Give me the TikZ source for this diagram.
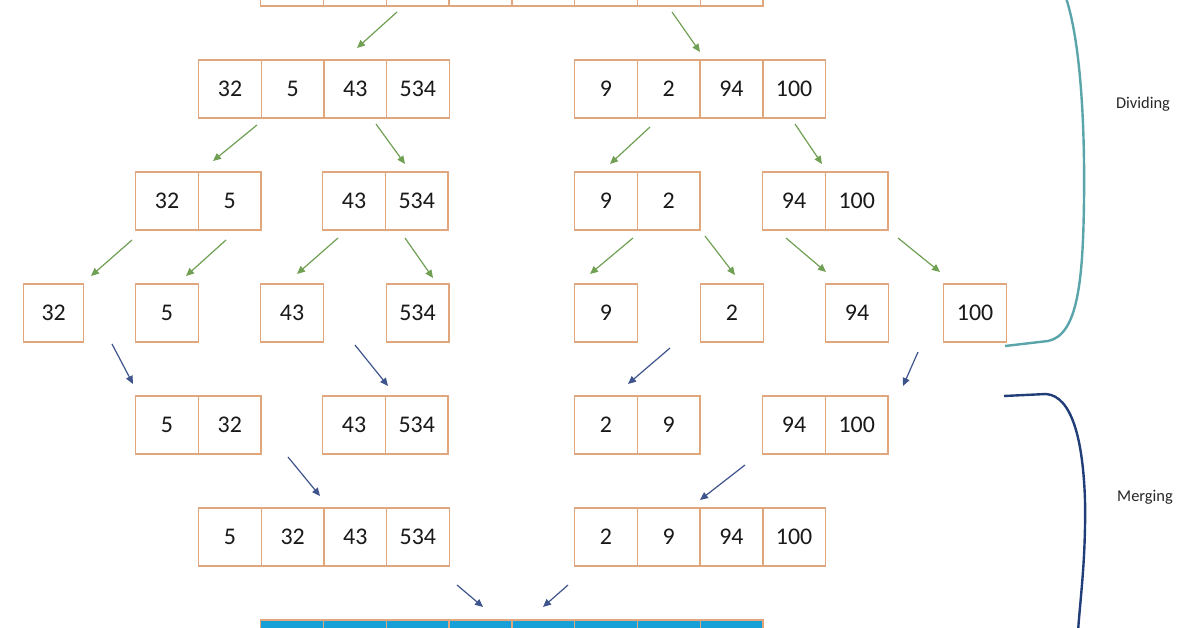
\documentclass[tikz,border=0pt]{standalone}
\usepackage{fontspec}
\setmainfont{Carlito}
\usetikzlibrary{arrows.meta}
\definecolor{cellline}{RGB}{226,166,124}
\definecolor{garr}{RGB}{112,160,84}
\definecolor{barr}{RGB}{62,84,140}
\definecolor{fillblue}{RGB}{22,160,215}
\definecolor{divc}{RGB}{90,165,170}
\definecolor{merc}{RGB}{34,62,120}
\begin{document}
\begin{tikzpicture}[x=1bp,y=-1bp,
  cell/.style={draw=cellline, line width=1.4bp, minimum width=62.7bp, minimum height=58bp, inner sep=0pt, anchor=west, text=black!90, font=\fontsize{24}{26}\selectfont},
  bluecell/.style={cell, fill=fillblue},
  garrow/.style={draw=garr, line width=1.2bp, -{Triangle[length=8bp,width=7bp]}},
  barrow/.style={draw=barr, line width=1.2bp, -{Triangle[length=8bp,width=7bp]}},
  lbl/.style={font=\fontsize{16.5}{18}\selectfont, text=black!85}]
\clip (0,0) rectangle (1196,628);
\useasboundingbox (0,0) rectangle (1196,628);
\fill[white] (0,0) rectangle (1196,628);
% row 1 (cut off at top)
\foreach \k in {0,...,7}{\node[cell] (r1c\k) at (260+62.8*\k,-23) {};}
% row 2
\foreach \t [count=\k from 0] in {32,5,43,534}{\node[cell] (r2l\k) at (198+62.6*\k,89) {\t};}
\foreach \t [count=\k from 0] in {9,2,94,100}{\node[cell] (r2r\k) at (574+62.7*\k,89) {\t};}
% row 3
\node[cell] (r3a0) at (135,201) {32}; \node[cell] (r3a1) at (197.7,201) {5};
\node[cell] (r3b0) at (322,201) {43}; \node[cell] (r3b1) at (384.7,201) {534};
\node[cell] (r3c0) at (574,201) {9};  \node[cell] (r3c1) at (636.7,201) {2};
\node[cell] (r3d0) at (762,201) {94}; \node[cell] (r3d1) at (824.7,201) {100};
% row 4
\node[cell, minimum width=60bp] (r4a) at (23,313) {32};
\node[cell] (r4b) at (135,313) {5};
\node[cell] (r4c) at (260,313) {43};
\node[cell] (r4d) at (385.5,313) {534};
\node[cell] (r4e) at (574,313) {9};
\node[cell] (r4f) at (700,313) {2};
\node[cell] (r4g) at (825,313) {94};
\node[cell] (r4h) at (943,313) {100};
% row 5
\node[cell] (r5a0) at (135,425) {5};  \node[cell] (r5a1) at (197.7,425) {32};
\node[cell] (r5b0) at (322,425) {43}; \node[cell] (r5b1) at (384.7,425) {534};
\node[cell] (r5c0) at (574,425) {2};  \node[cell] (r5c1) at (636.7,425) {9};
\node[cell] (r5d0) at (762,425) {94}; \node[cell] (r5d1) at (824.7,425) {100};
% row 6
\foreach \t [count=\k from 0] in {5,32,43,534}{\node[cell] (r6l\k) at (198+62.6*\k,537) {\t};}
\foreach \t [count=\k from 0] in {2,9,94,100}{\node[cell] (r6r\k) at (574+62.7*\k,537) {\t};}
% row 7 (cut off at bottom)
\foreach \k in {0,...,7}{\node[bluecell] (r7c\k) at (260+62.8*\k,649) {};}
% dividing arrows
\foreach \n/\sx/\sy/\ex/\ey in {1/397/12/357/48, 2/672/12/700/52,
  3/257/125/213/161, 4/376/124/405/164, 5/650/127/610/164, 6/795/124/822/164,
  7/132/240/91/276, 8/226/240/186/276, 9/338/238/297/274, 10/405/238/433/278,
  11/633/238/590/274, 12/705/236/735/275, 13/786/238/826/272, 14/898/238/940/272}{
  \coordinate (g\n s) at (\sx,\sy); \coordinate (g\n e) at (\ex,\ey);
  \draw[garrow] (g\n s) -- (g\n e);}
% merging arrows
\foreach \n/\sx/\sy/\ex/\ey in {1/112/344/133/384, 2/355/345/388/386, 3/670/348/628/384, 4/918/352/903/386,
  5/288/457/320/496, 6/745/465/700/500, 7/457/585/483/607, 8/568/585/543/607}{
  \coordinate (b\n s) at (\sx,\sy); \coordinate (b\n e) at (\ex,\ey);
  \draw[barrow] (b\n s) -- (b\n e);}
% brackets
\coordinate (dtop) at (1066,-2);
\coordinate (dmid) at (1084,200);
\coordinate (dbot) at (1005,346);
\draw[divc, line width=2.4bp] (dtop) .. controls (1080,40) and (1085,120) .. (dmid)
  .. controls (1083,280) and (1078,335) .. (1048,341) -- (dbot);
\coordinate (mtop) at (1004,396);
\coordinate (mmid) at (1085,500);
\coordinate (mbot) at (1078,632);
\draw[merc, line width=2.4bp] (mtop) -- (1046,394) .. controls (1072,396) and (1083,440) .. (mmid)
  .. controls (1086,560) and (1080,600) .. (mbot);
\node[lbl] (dl) at (1143,104) {Dividing};
\node[lbl] (ml) at (1145,497) {Merging};
\end{tikzpicture}
\end{document}
